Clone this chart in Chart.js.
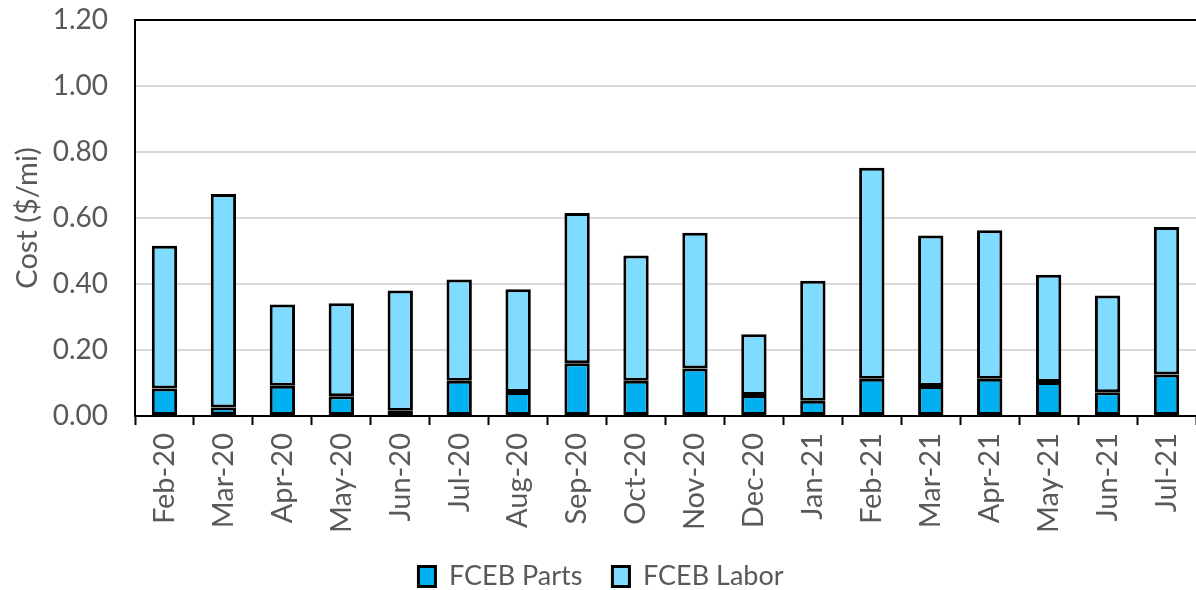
<!DOCTYPE html>
<html>
<head>
<meta charset="utf-8">
<title>FCEB Cost per Mile</title>
<script src="https://cdn.jsdelivr.net/npm/chart.js@4"></script>
<style>
  html, body { margin: 0; padding: 0; background: #fff; }
  #wrap { width: 1196px; height: 590px; }
</style>
</head>
<body>
<div id="wrap"><canvas id="chart" width="1196" height="590"></canvas></div>
<script>
const months = ["Feb-20", "Mar-20", "Apr-20", "May-20", "Jun-20", "Jul-20", "Aug-20", "Sep-20",
  "Oct-20", "Nov-20", "Dec-20", "Jan-21", "Feb-21", "Mar-21", "Apr-21", "May-21", "Jun-21", "Jul-21"];

// cost per mile, $/mi
const partsCost = [0.083, 0.026, 0.092, 0.060, 0.016, 0.107, 0.073, 0.160,
  0.107, 0.144, 0.064, 0.046, 0.113, 0.091, 0.113, 0.103, 0.072, 0.126];
const laborCost = [0.433, 0.647, 0.246, 0.282, 0.364, 0.307, 0.311, 0.455,
  0.379, 0.411, 0.184, 0.364, 0.639, 0.456, 0.450, 0.325, 0.293, 0.447];

const yTicks = [0, 0.2, 0.4, 0.6, 0.8, 1.0, 1.2];

const textGray = "#595959";
const fontFamily = "Lato, 'Open Sans', sans-serif";

// black line along the top of the plot area
const topBorder = {
  id: "topBorder",
  afterDraw(chart) {
    const { ctx, chartArea } = chart;
    ctx.save();
    ctx.strokeStyle = "#000";
    ctx.lineWidth = 2;
    ctx.beginPath();
    ctx.moveTo(chartArea.left, chartArea.top);
    ctx.lineTo(chartArea.right, chartArea.top);
    ctx.stroke();
    ctx.restore();
  }
};

new Chart(document.getElementById("chart"), {
  type: "bar",
  data: {
    labels: months,
    datasets: [
      {
        label: "FCEB Parts",
        data: partsCost,
        backgroundColor: "#00B0F0",
        borderColor: "#000",
        borderWidth: 3,
        borderSkipped: false
      },
      {
        label: "FCEB Labor",
        data: laborCost,
        backgroundColor: "#7FDBFF",
        borderColor: "#000",
        borderWidth: 3,
        borderSkipped: false
      }
    ]
  },
  options: {
    responsive: false,
    animation: false,
    barPercentage: 0.43,
    categoryPercentage: 1.0,
    layout: { padding: { top: 20, right: 0, left: 6, bottom: -10 } },
    plugins: {
      tooltip: { enabled: false },
      legend: {
        position: "bottom",
        labels: {
          color: textGray,
          font: { family: fontFamily, size: 27 },
          boxWidth: 17,
          boxHeight: 20,
          padding: 30
        }
      }
    },
    scales: {
      x: {
        stacked: true,
        border: { color: "#000", width: 2 },
        grid: {
          display: true,
          offset: true,
          drawOnChartArea: false,
          drawTicks: true,
          tickLength: 9,
          tickWidth: 2,
          tickColor: "#000"
        },
        ticks: {
          color: textGray,
          font: { family: fontFamily, size: 29 },
          maxRotation: 90,
          minRotation: 90,
          autoSkip: false,
          padding: 8
        },
        afterFit(scale) {
          scale.height = 117;
          scale.paddingTop = 0;
          scale.paddingLeft = 0;
          scale.paddingRight = 0;
        }
      },
      y: {
        stacked: true,
        min: 0,
        max: 1.2,
        border: { color: "#000", width: 2 },
        grid: { color: "#d9d9d9", lineWidth: 2, drawTicks: false },
        afterBuildTicks(scale) { scale.ticks = yTicks.map(v => ({ value: v })); },
        ticks: {
          color: textGray,
          font: { family: fontFamily, size: 28 },
          padding: 27,
          callback: v => v.toFixed(2)
        },
        title: {
          display: true,
          text: "Cost ($/mi)",
          color: textGray,
          font: { family: fontFamily, size: 29 },
          padding: { top: 4, bottom: 0 }
        },
        afterFit(scale) {
          scale.width = 129;
          scale.paddingTop = 0;
          scale.paddingBottom = 0;
        }
      }
    }
  },
  plugins: [topBorder]
});
</script>
</body>
</html>
